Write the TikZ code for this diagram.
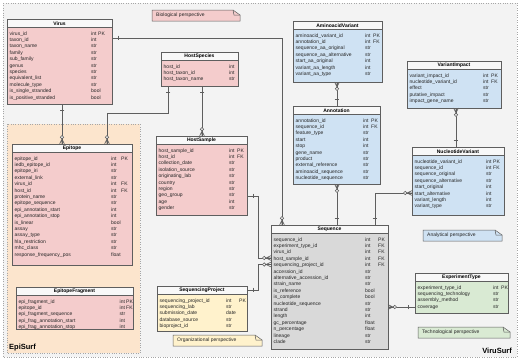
\documentclass[tikz,border=0pt]{standalone}
\usepackage{fontspec}
\setmainfont{Liberation Sans}
\usepackage{xcolor}
\usepackage{tikz}
\usetikzlibrary{positioning,decorations.markings}

\definecolor{panelgray}{HTML}{F3F3F3}
\definecolor{epiback}{HTML}{FCE5CD}
\definecolor{biofill}{HTML}{F4CCCC}
\definecolor{anafill}{HTML}{CFE2F3}
\definecolor{seqfill}{HTML}{D9D9D9}
\definecolor{orgfill}{HTML}{FFF2CC}
\definecolor{techfill}{HTML}{D9EAD3}
\definecolor{hdrfill}{HTML}{F8F8F8}
\definecolor{linegray}{HTML}{5E5E5E}

% table: name, x1, y1, x2, y2, fill, title, typex/keyx, rows
\newcommand\ertable[9]{%
  \node[tbody, fill=#6, minimum width=#4-#2, minimum height=#5-#3] (#1) at (#2,#3) {};
  \node[thead, minimum width=#4-#2] (#1-h) at (#2,#3) {#7};
  \foreach \tx/\kx in {#8}{%
    \foreach \n/\t/\k [count=\i from 0] in {#9}{%
      \node[cell] (#1-n\i) at (#2+2.5,#3+13.5+6.4*\i) {\n};
      \node[cell] (#1-t\i) at (\tx,#3+13.5+6.4*\i) {\t};
      \node[cell] (#1-k\i) at (\kx,#3+13.5+6.4*\i) {\k};
    }}}

% note: name, x1, y1, x2, y2, fill, text
\newcommand\pnote[7]{%
  \draw[notebox, fill=#6] (#2,#3) -- (#4-7,#3) -- (#4,#3+5) -- (#4,#5) -- (#2,#5) -- cycle;
  \draw[notebox] (#4-7,#3) -- (#4-6,#3+5) -- (#4,#3+5);
  \node[notetext] (#1) at (#2+4,#3/2+#5/2) {#7};
}

\begin{document}
\begin{tikzpicture}[x=1pt, y=-1pt,
  tbody/.style={draw=linegray, line width=0.6pt, anchor=north west, inner sep=0, outer sep=0},
  thead/.style={draw=linegray, line width=0.6pt, fill=hdrfill, anchor=north west, inner sep=0, outer sep=0, minimum height=8.5, font=\bfseries\fontsize{5}{6}\selectfont},
  cell/.style={anchor=mid west, inner sep=0, font=\fontsize{5}{6}\selectfont, text=black!85},
  notebox/.style={draw=linegray, line width=0.5pt},
  notetext/.style={anchor=west, inner sep=0, font=\fontsize{5}{6}\selectfont, text=black!85},
  surf/.style={anchor=west, inner sep=0, font=\bfseries\fontsize{7.5}{9}\selectfont},
  rel/.style={draw=linegray, line width=0.7pt, postaction=decorate, decoration={markings,
    mark=at position 6.5pt with {\draw[draw=linegray, line width=0.7pt] (0,-2.3) -- (0,2.3);},
    mark=at position 1 with {\draw[draw=linegray, line width=0.6pt] (-5,0) -- (0,2.4) (-5,0) -- (0,0) (-5,0) -- (0,-2.4);
      \draw[draw=linegray, line width=0.6pt, fill=white] (-6.8,0) circle (1.7);}}}]
\useasboundingbox (0,0) rectangle (520,362);
\fill[white] (0,0) rectangle (520,362);
\draw[draw=black!35, dotted, fill=panelgray] (3,3) rectangle (517,357);
\draw[draw=black!35, dotted, fill=epiback] (7,124) rectangle (140,353);

\pnote{bionote}{152}{10}{240}{21}{biofill}{Biological perspective}
\pnote{ananote}{423}{230}{502}{241}{anafill}{Analytical perspective}
\pnote{technote}{418}{327}{510}{338}{techfill}{Technological perspective}
\pnote{orgnote}{173}{335}{262}{346}{orgfill}{Organizational perspective}

\node[surf] (episurf) at (9,348) {EpiSurf};
\node[surf, anchor=east] (virusurf) at (512,351) {ViruSurf};

\ertable{virus}{7}{19}{112}{104}{biofill}{Virus}{91/98}{virus\_id/int/PK, taxon\_id/int/{}, taxon\_name/str/{}, family/str/{}, sub\_family/str/{}, genus/str/{}, species/str/{}, equivalent\_list/str/{}, molecule\_type/str/{}, is\_single\_stranded/bool/{}, is\_positive\_stranded/bool/{}}
\ertable{epitope}{12}{144}{132}{265}{biofill}{Epitope}{111/121}{epitope\_id/int/PK, iedb\_epitope\_id/int/{}, epitope\_iri/str/{}, external\_link/str/{}, virus\_id/int/FK, host\_id/int/FK, protein\_name/str/{}, epitope\_sequence/str/{}, epi\_annotation\_start/int/{}, epi\_annotation\_stop/int/{}, is\_linear/bool/{}, assay/str/{}, assay\_type/str/{}, hla\_restriction/str/{}, mhc\_class/str/{}, response\_frequency\_pos/float/{}}
\ertable{epifragment}{16}{287}{133}{329}{biofill}{EpitopeFragment}{119.5/126}{epi\_fragment\_id/int/PK, epitope\_id/int/FK, epi\_fragment\_sequence/str/{}, epi\_frag\_annotation\_start/int/{}, epi\_frag\_annotation\_stop/int/{}}
\ertable{hostspecies}{161}{52}{238}{86}{biofill}{HostSpecies}{229/236}{host\_id/int/{}, host\_taxon\_id/int/{}, host\_taxon\_name/str/{}}
\ertable{hostsample}{156}{136}{247}{215}{biofill}{HostSample}{229/237}{host\_sample\_id/int/PK, host\_id/int/FK, collection\_date/str/{}, isolation\_source/str/{}, originating\_lab/str/{}, country/str/{}, region/str/{}, geo\_group/str/{}, age/int/{}, gender/str/{}}
\ertable{seqproject}{157}{286}{247}{331}{orgfill}{SequencingProject}{226/239}{sequencing\_project\_id/int/PK, sequencing\_lab/str/{}, submission\_date/date/{}, database\_source/str/{}, bioproject\_id/str/{}}
\ertable{sequence}{271}{225}{388}{349}{seqfill}{Sequence}{365/378}{sequence\_id/int/PK, experiment\_type\_id/int/FK, virus\_id/int/FK, host\_sample\_id/int/FK, sequencing\_project\_id/int/FK, accession\_id/str/{}, alternative\_accession\_id/str/{}, strain\_name/str/{}, is\_reference/bool/{}, is\_complete/bool/{}, nucleotide\_sequence/str/{}, strand/str/{}, length/int/{}, gc\_percentage/float/{}, n\_percentage/float/{}, lineage/str/{}, clade/str/{}}
\ertable{aavariant}{293}{21}{382}{82}{anafill}{AminoacidVariant}{365/373}{aminoacid\_variant\_id/int/PK, annotation\_id/int/FK, sequence\_aa\_original/str/{}, sequence\_aa\_alternative/str/{}, start\_aa\_original/int/{}, variant\_aa\_length/int/{}, variant\_aa\_type/str/{}}
\ertable{annotation}{293}{106}{380}{184}{anafill}{Annotation}{363/371}{annotation\_id/int/PK, sequence\_id/int/FK, feature\_type/str/{}, start/int/{}, stop/int/{}, gene\_name/str/{}, product/str/{}, external\_reference/str/{}, aminoacid\_sequence/str/{}, nucleotide\_sequence/str/{}}
\ertable{varimpact}{407}{61}{501}{108}{anafill}{VariantImpact}{483/491}{variant\_impact\_id/int/PK, nucleotide\_variant\_id/int/FK, effect/str/{}, putative\_impact/str/{}, impact\_gene\_name/str/{}}
\ertable{ntvariant}{412}{147}{504}{215}{anafill}{NucleotideVariant}{486/493}{nucleotide\_variant\_id/int/PK, sequence\_id/int/FK, sequence\_original/str/{}, sequence\_alternative/str/{}, start\_original/int/{}, start\_alternative/int/{}, variant\_length/int/{}, variant\_type/str/{}}
\ertable{exptype}{415}{273}{508}{313}{techfill}{ExperimentType}{493/501}{experiment\_type\_id/int/PK, sequencing\_technology/str/{}, assembly\_method/str/{}, coverage/str/{}}

\draw[rel] ([xshift=55pt]virus.south west) -- ([xshift=50pt]epitope.north west);
\draw[rel] ([xshift=7pt]hostspecies.south west) -- ++(0,27) -| ([xshift=95pt]epitope.north west);
\draw[rel] ([xshift=41pt]hostspecies.south west) -- ([xshift=46pt]hostsample.north west);
\draw[rel] ([yshift=-19pt]virus.north east) -| ([xshift=11pt]sequence.north west);
\draw[rel] ([yshift=-60pt]hostsample.north east) -- ++(11,0) |- ([yshift=-33pt]sequence.north west);
\draw[rel] ([yshift=-4pt]seqproject.north east) -- ++(11,0) |- ([yshift=-39.5pt]sequence.north west);
\draw[rel] ([xshift=44pt]annotation.north west) -- ([xshift=44pt]aavariant.south west);
\draw[rel] ([xshift=66pt]sequence.north west) -- ([xshift=44pt]annotation.south west);
\draw[rel] ([xshift=104pt]sequence.north west) |- ([yshift=-46pt]ntvariant.north west);
\draw[rel] ([xshift=44pt]ntvariant.north west) -- ([xshift=49pt]varimpact.south west);
\coordinate (et-link) at ([yshift=-34pt]exptype.north west);
\draw[rel] (et-link) -- (et-link -| sequence.east);
\end{tikzpicture}
\end{document}
